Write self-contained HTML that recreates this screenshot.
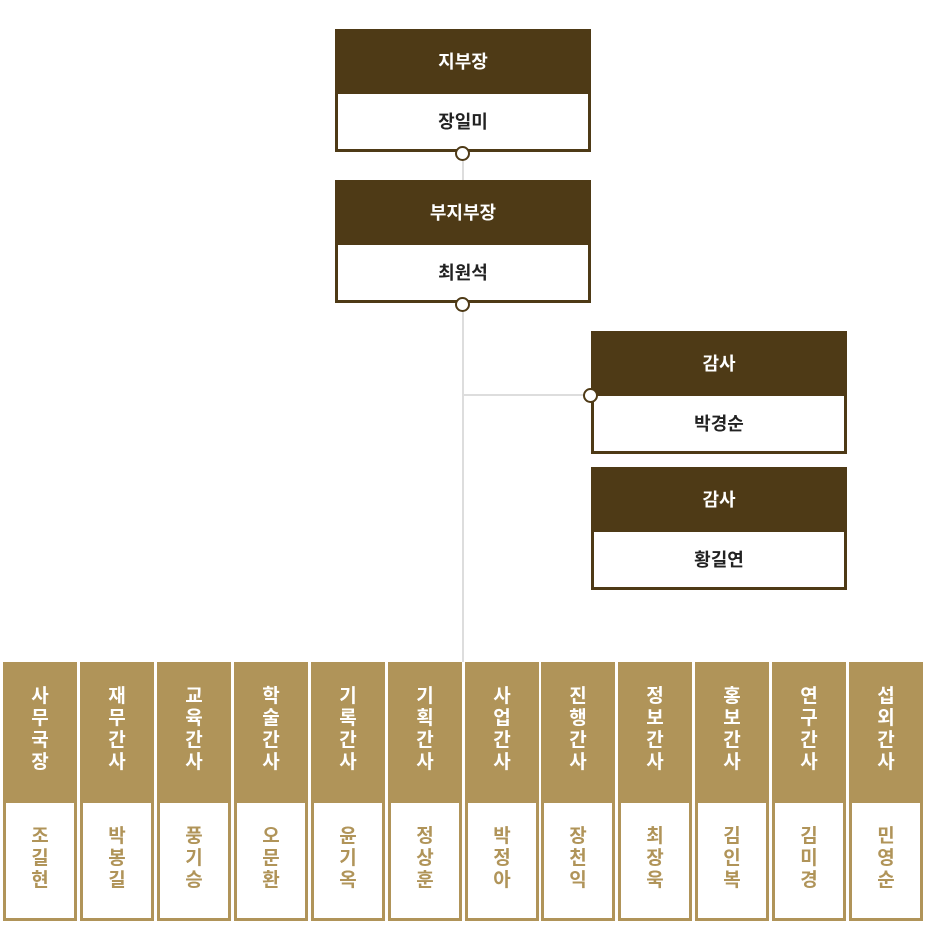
<!DOCTYPE html>
<html><head><meta charset="utf-8"><style>
body{margin:0;width:926px;height:951px;background:#fff;position:relative;font-family:"Liberation Sans","Noto Sans CJK KR",sans-serif;overflow:hidden}
.b{position:absolute;width:256px;height:123px;box-sizing:border-box;border:3px solid #4e3a16;background:#fff}
.b .h{height:62px;background:#4e3a16;color:#fff;font-weight:bold;font-size:18px;display:flex;align-items:center;justify-content:center;padding-bottom:5px;box-sizing:border-box}
.b .n{height:58px;display:flex;align-items:center;justify-content:center;font-weight:bold;font-size:18px;color:#222;padding-bottom:4px;box-sizing:border-box}
.l{position:absolute;background:#ddd}
.c{position:absolute;width:11px;height:11px;border:2px solid #4e3a16;border-radius:50%;background:#fff}
.s{position:absolute;top:662px;width:74px;height:259px;box-sizing:border-box;border:3px solid #b09459;background:#fff}
.s .h{height:138px;background:#b09459;color:#fff;font-weight:bold;font-size:19px;line-height:22px;text-align:center;padding-top:21px;box-sizing:border-box}
.s .n{color:#b09459;font-weight:bold;font-size:19px;line-height:22px;text-align:center;padding-top:23px}
</style></head><body>
<div class="l" style="left:462px;top:153px;width:2px;height:509px"></div>
<div class="l" style="left:463px;top:394px;width:128px;height:2px"></div>
<div class="b" style="left:335px;top:29px"><div class="h">지부장</div><div class="n">장일미</div></div>
<div class="b" style="left:335px;top:180px"><div class="h">부지부장</div><div class="n">최원석</div></div>
<div class="b" style="left:591px;top:331px"><div class="h">감사</div><div class="n">박경순</div></div>
<div class="b" style="left:591px;top:467px"><div class="h">감사</div><div class="n">황길연</div></div>
<div class="c" style="left:455px;top:146px"></div>
<div class="c" style="left:455px;top:297px"></div>
<div class="c" style="left:583px;top:388px"></div>
<div class="s" style="left:3px"><div class="h">사<br>무<br>국<br>장</div><div class="n">조<br>길<br>현</div></div>
<div class="s" style="left:80px"><div class="h">재<br>무<br>간<br>사</div><div class="n">박<br>봉<br>길</div></div>
<div class="s" style="left:157px"><div class="h">교<br>육<br>간<br>사</div><div class="n">풍<br>기<br>승</div></div>
<div class="s" style="left:234px"><div class="h">학<br>술<br>간<br>사</div><div class="n">오<br>문<br>환</div></div>
<div class="s" style="left:311px"><div class="h">기<br>록<br>간<br>사</div><div class="n">윤<br>기<br>옥</div></div>
<div class="s" style="left:388px"><div class="h">기<br>획<br>간<br>사</div><div class="n">정<br>상<br>훈</div></div>
<div class="s" style="left:465px"><div class="h">사<br>업<br>간<br>사</div><div class="n">박<br>정<br>아</div></div>
<div class="s" style="left:541px"><div class="h">진<br>행<br>간<br>사</div><div class="n">장<br>천<br>익</div></div>
<div class="s" style="left:618px"><div class="h">정<br>보<br>간<br>사</div><div class="n">최<br>장<br>욱</div></div>
<div class="s" style="left:695px"><div class="h">홍<br>보<br>간<br>사</div><div class="n">김<br>인<br>복</div></div>
<div class="s" style="left:772px"><div class="h">연<br>구<br>간<br>사</div><div class="n">김<br>미<br>경</div></div>
<div class="s" style="left:849px"><div class="h">섭<br>외<br>간<br>사</div><div class="n">민<br>영<br>순</div></div>
</body></html>
